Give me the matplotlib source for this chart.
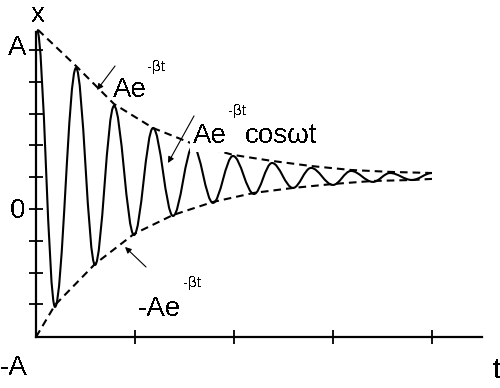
import matplotlib
matplotlib.use('Agg')
import matplotlib.pyplot as plt
from matplotlib.path import Path
from matplotlib.patches import PathPatch

plt.rcParams['font.family'] = ['Liberation Sans', 'DejaVu Sans']
plt.rcParams['lines.scale_dashes'] = False
plt.rcParams['text.antialiased'] = False

# extrema of the damped oscillation (t, x)
curve_t = [0.01, 0.192, 0.404, 0.596, 0.788, 0.990, 1.182, 1.384, 1.586, 1.788, 1.990,
           2.202, 2.384, 2.596, 2.778, 3.0, 3.182, 3.404, 3.576, 3.798, 4.0]
curve_x = [1.126, -0.616, 0.887, -0.352, 0.648, -0.164, 0.509, -0.044, 0.396, 0.038, 0.333,
           0.094, 0.289, 0.132, 0.258, 0.151, 0.239, 0.170, 0.226, 0.182, 0.226]

# upper and lower envelopes
upper_t = [0.02, 0.404, 0.788, 1.182, 1.586, 1.990, 2.384, 2.778, 3.182, 3.576, 4.0]
upper_x = [1.126, 0.899, 0.660, 0.509, 0.409, 0.340, 0.302, 0.270, 0.245, 0.233, 0.226]
lower_t = [0.0, 0.192, 0.596, 0.990, 1.384, 1.788, 2.202, 2.596, 3.0, 3.404, 3.798, 4.0]
lower_x = [-0.805, -0.604, -0.346, -0.157, -0.038, 0.044, 0.101, 0.132, 0.157, 0.176, 0.182, 0.189]

x_ticks = [1, 2, 3, 4]
y_ticks = [-0.6, -0.4, -0.2, 0.0, 0.2, 0.4, 0.6, 0.8, 1.0]

fig = plt.figure(figsize=(5.0, 3.88), dpi=100)
ax = fig.add_axes([0, 0, 1, 1])
ax.set_xlim(-0.364, 4.687)
ax.set_ylim(-1.126, 1.314)

# axes drawn as spines crossing at t=0, x=-0.805
for s in ['top', 'right']:
    ax.spines[s].set_visible(False)
ax.spines['left'].set_position(('data', 0))
ax.spines['bottom'].set_position(('data', -0.805))
ax.spines['left'].set_bounds(-0.805, 1.113)
ax.spines['bottom'].set_bounds(0, 4.505)
for s in ['left', 'bottom']:
    ax.spines[s].set_linewidth(1.6)
ax.set_xticks(x_ticks)
ax.set_yticks(y_ticks)
ax.tick_params(direction='inout', length=10, width=1.3, labelbottom=False, labelleft=False)

# smooth half-waves between extrema
verts = [(curve_t[0], curve_x[0])]
codes = [Path.MOVETO]
k = 0.36
for i in range(len(curve_t) - 1):
    dt = curve_t[i + 1] - curve_t[i]
    verts += [(curve_t[i] + k * dt, curve_x[i]),
              (curve_t[i + 1] - k * dt, curve_x[i + 1]),
              (curve_t[i + 1], curve_x[i + 1])]
    codes += [Path.CURVE4] * 3
ax.add_patch(PathPatch(Path(verts, codes), facecolor='none', edgecolor='black', lw=1.5, zorder=3))

ax.plot(upper_t, upper_x, color='black', lw=1.5, dashes=(5.5, 3.6), zorder=2)
ax.plot(lower_t, lower_x, color='black', lw=1.5, dashes=(5.5, 3.6), zorder=2)

fs = 20
ax.text(0.015, 1.176, 'x', fontsize=fs, ha='center', va='baseline')
ax.text(-0.192, 0.969, 'A', fontsize=fs, ha='center', va='baseline')
ax.text(-0.187, -0.057, '0', fontsize=fs, ha='center', va='baseline')
ax.text(-0.222, -1.044, '-A', fontsize=fs, ha='center', va='baseline')
ax.text(4.646, -1.063, 't', fontsize=fs, ha='center', va='baseline')

ax.text(0.778, 0.704, 'Ae', fontsize=fs, va='baseline', zorder=5)
ax.text(1.121, 0.868, '-βt', fontsize=11, va='baseline', zorder=5)

ax.text(1.586, 0.415, 'Ae', fontsize=fs, va='baseline', zorder=5,
        bbox=dict(facecolor='white', edgecolor='none', pad=2))
ax.text(1.939, 0.591, '-βt', fontsize=11, va='baseline', zorder=5)
ax.text(2.111, 0.415, 'cosωt', fontsize=fs, va='baseline', zorder=5)

ax.text(1.030, -0.673, '-Ae', fontsize=fs, va='baseline', zorder=5)
ax.text(1.485, -0.491, '-βt', fontsize=11, va='baseline', zorder=5)

arrow = dict(arrowstyle='-|>', lw=0.8, color='black', mutation_scale=9, shrinkA=0, shrinkB=0)
ax.annotate('', xy=(0.616, 0.748), xytext=(0.798, 0.899), arrowprops=arrow, zorder=6)
ax.annotate('', xy=(1.333, 0.289), xytext=(1.596, 0.585), arrowprops=arrow, zorder=6)
ax.annotate('', xy=(0.899, -0.239), xytext=(1.111, -0.365), arrowprops=arrow, zorder=6)

fig.savefig('out.png', dpi=100)
